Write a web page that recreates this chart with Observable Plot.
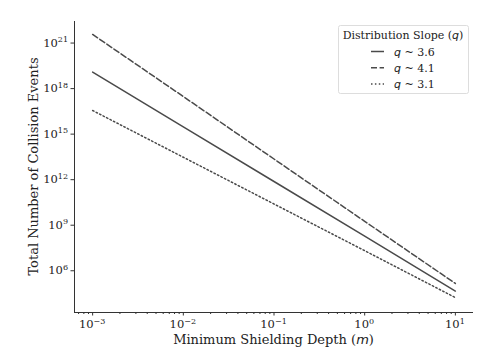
<!DOCTYPE html>
<html>
<head>
<meta charset="utf-8">
<script src="https://cdn.jsdelivr.net/npm/d3@7"></script>
<script src="https://cdn.jsdelivr.net/npm/@observablehq/plot@0.6"></script>
<style>
  html, body { margin: 0; padding: 0; background: #fff; }
  #chart { width: 488px; height: 354px; }
</style>
</head>
<body>
<div id="chart"></div>
<script>
// ---- data ----
const depth = [1e-3, 1e-2, 1e-1, 1, 10];
const eventsQ36 = [1.23e19, 3.0e15, 7.6e11, 1.9e8, 4.6e4];
const eventsQ41 = [3.7e21, 3.0e17, 2.3e13, 1.8e9, 1.45e5];
const eventsQ31 = [3.6e16, 3.0e13, 2.5e10, 2.1e7, 1.7e4];
const seriesSlopes = ["3.6", "4.1", "3.1"];
const seriesDash = [null, "6,2.6", "1.5,2.4"];

const xTicks = [1e-3, 1e-2, 1e-1, 1, 10];
const xTickExps = ["\u22123", "\u22122", "\u22121", "0", "1"];
const yTicks = [1e6, 1e9, 1e12, 1e15, 1e18, 1e21];
const yTickExps = ["6", "9", "12", "15", "18", "21"];
const xMinor = [];
for (const base of [1e-4, 1e-3, 1e-2, 1e-1, 1, 10]) for (const m of [2,3,4,5,6,7,8,9]) xMinor.push(base * m);

const xDomain = [Math.pow(10, -3.2), Math.pow(10, 1.2)];
const yDomain = [Math.pow(10, 3.25), Math.pow(10, 22.42)];

const seriesValues = [eventsQ36, eventsQ41, eventsQ31];
const rows = seriesValues.map(vals => depth.map((x, i) => ({x, y: vals[i]})));

const ink = "#4a4a4a";
const W = 488, H = 354;
const mL = 74, mR = 15, mT = 21, mB = 42;

const plot = Plot.plot({
  width: W, height: H,
  marginLeft: mL, marginRight: mR, marginTop: mT, marginBottom: mB,
  style: { fontFamily: "DejaVu Serif", fontSize: "11px", color: "#222", background: "#fff", overflow: "visible" },
  x: { type: "log", domain: xDomain, label: null },
  y: { type: "log", domain: yDomain, label: null },
  marks: [
    Plot.ruleX([xDomain[0]], { stroke: "#333", strokeWidth: 1 }),
    Plot.ruleY([yDomain[0]], { stroke: "#333", strokeWidth: 1 }),
    Plot.axisX(xMinor.filter(v => v >= xDomain[0] && v <= xDomain[1]), { tickSize: 2, text: null, label: null, stroke: "#333" }),
    Plot.axisX(xTicks, { tickSize: 3.5, text: null, label: null, stroke: "#333" }),
    Plot.axisY(yTicks, { tickSize: 3.5, text: null, label: null, stroke: "#333" }),
    ...rows.map((r, i) => Plot.line(r, { x: "x", y: "y", stroke: ink, strokeWidth: 1.5, strokeDasharray: seriesDash[i] }))
  ]
});

document.getElementById("chart").appendChild(plot);

const svg = d3.select(plot);
const sx = plot.scale("x"), sy = plot.scale("y");
const font = "DejaVu Serif";

// tick labels with superscripts
xTicks.forEach((v, i) => {
  const t = svg.append("text").attr("x", sx.apply(v)).attr("y", H - mB + 16)
    .attr("text-anchor", "middle").style("font-family", font).style("font-size", "11.5px").attr("fill", "#222");
  t.append("tspan").text("10");
  t.append("tspan").attr("dy", -4.5).style("font-size", "8px").text(xTickExps[i]);
});
yTicks.forEach((v, i) => {
  const t = svg.append("text").attr("x", mL - 6).attr("y", sy.apply(v) + 4)
    .attr("text-anchor", "end").style("font-family", font).style("font-size", "11.5px").attr("fill", "#222");
  t.append("tspan").text("10");
  t.append("tspan").attr("dy", -4.5).style("font-size", "8px").text(yTickExps[i]);
});

// axis titles
const xt = svg.append("text")
  .attr("x", (mL + W - mR) / 2).attr("y", 344)
  .attr("text-anchor", "middle")
  .style("font-family", font).style("font-size", "13px").attr("fill", "#222");
xt.append("tspan").text("Minimum Shielding Depth (");
xt.append("tspan").style("font-family", "DejaVu Sans").style("font-style", "italic").text("m");
xt.append("tspan").text(")");

svg.append("text")
  .attr("transform", `translate(38,${(mT + H - mB) / 2}) rotate(-90)`)
  .attr("text-anchor", "middle")
  .style("font-family", font).style("font-size", "13px").attr("fill", "#222")
  .text("Total Number of Collision Events");

// legend
const lg = svg.append("g").attr("transform", "translate(338,25)");
lg.append("rect").attr("x", 0.5).attr("y", 0.5).attr("width", 130).attr("height", 68)
  .attr("rx", 2).attr("fill", "#fff").attr("fill-opacity", 0.8).attr("stroke", "#ddd");
const lt = lg.append("text").attr("x", 65).attr("y", 14).attr("text-anchor", "middle")
  .style("font-family", font).style("font-size", "11px").attr("fill", "#222");
lt.append("tspan").text("Distribution Slope (");
lt.append("tspan").style("font-family", "DejaVu Sans").style("font-style", "italic").text("q");
lt.append("tspan").text(")");
seriesSlopes.forEach((s, i) => {
  const cy = 26.5 + i * 16.3;
  lg.append("line").attr("x1", 33).attr("x2", 46).attr("y1", cy).attr("y2", cy)
    .attr("stroke", ink).attr("stroke-width", 1.5).attr("stroke-dasharray", seriesDash[i]);
  const t = lg.append("text").attr("x", 56).attr("y", cy + 4).attr("text-anchor", "start")
    .style("font-family", font).style("font-size", "11px").attr("fill", "#222");
  t.append("tspan").style("font-family", "DejaVu Sans").style("font-style", "italic").text("q");
  t.append("tspan").text(" ~ " + s);
});
</script>
</body>
</html>
